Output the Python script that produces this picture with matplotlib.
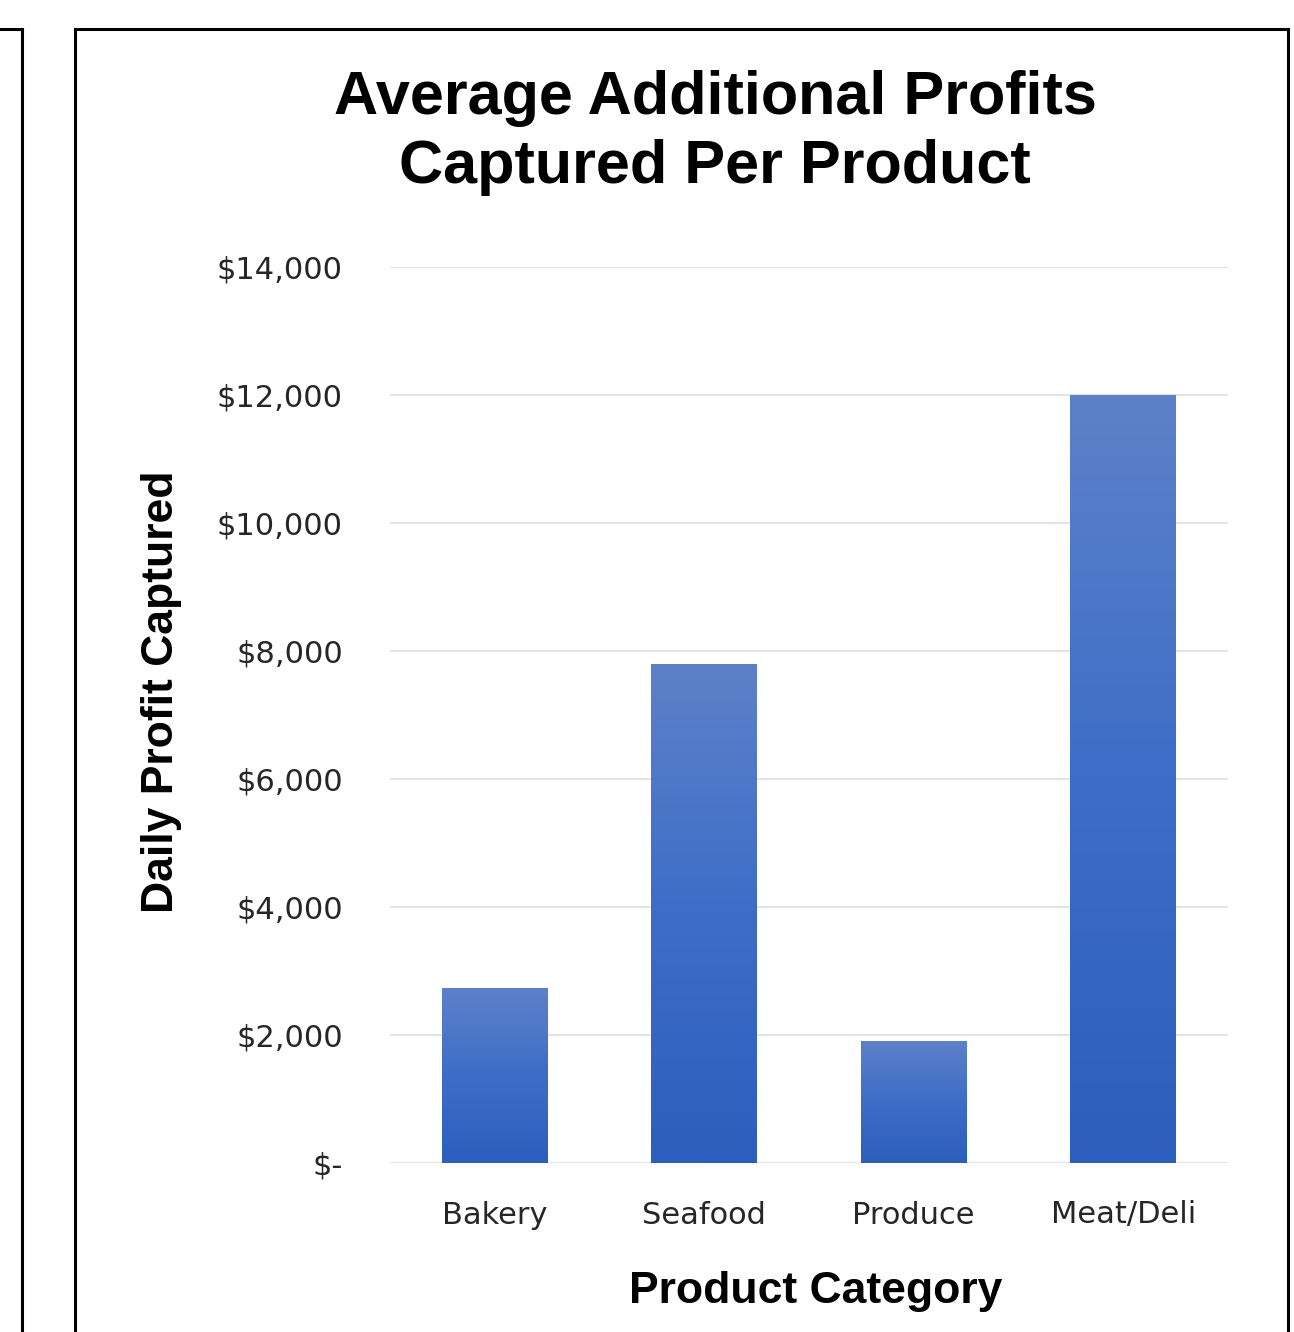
import numpy as np
import matplotlib.pyplot as plt
from matplotlib.lines import Line2D
from matplotlib.colors import LinearSegmentedColormap
from matplotlib.ticker import FuncFormatter

categories = ["Bakery", "Seafood", "Produce", "Meat/Deli"]
profits = [2730, 7800, 1900, 12000]
y_ticks = [0, 2000, 4000, 6000, 8000, 10000, 12000, 14000]

W, H = 1294, 1332
fig = plt.figure(figsize=(W / 100, H / 100), dpi=100)

# frame lines (pixel coords -> figure fraction)
def fx(x):
    return x / W

def fy(y):
    return 1 - y / H

for xs, ys in [([0, 22], [29, 29]), ([22, 22], [29, 1340]),
               ([75, 1288], [29, 29]), ([75, 75], [29, 1340]), ([1288, 1288], [29, 1340])]:
    fig.add_artist(Line2D([fx(x) for x in xs], [fy(y) for y in ys],
                          color="black", lw=2.2, transform=fig.transFigure))

ax = fig.add_axes([fx(390), fy(1163), fx(1228) - fx(390), fy(267) - fy(1163)])

for t in y_ticks:
    ax.axhline(t, color="#E1E4EA", lw=1.5, zorder=0)

cmap = LinearSegmentedColormap.from_list("bar", ["#2C5EBD", "#3D6DC7", "#5D81C9"])
grad = np.linspace(0, 1, 256).reshape(-1, 1)
bars = ax.bar(range(len(categories)), profits, width=0.505, color="none", zorder=2)
for b in bars:
    x0, w, h = b.get_x(), b.get_width(), b.get_height()
    im = ax.imshow(grad, cmap=cmap, aspect="auto", origin="lower",
                   extent=[x0, x0 + w, 0, h], zorder=2)
    im.set_clip_path(b)
ax.set_xlim(-0.5, 3.5)
ax.set_ylim(0, 14000)

for s in ax.spines.values():
    s.set_visible(False)
ax.tick_params(length=0)
ax.set_yticks(y_ticks)
ax.yaxis.set_major_formatter(FuncFormatter(lambda v, p: "$-" if v == 0 else f"${v:,.0f}"))
ax.set_xticks(range(len(categories)))
ax.set_xticklabels(categories)
for lab in ax.get_xticklabels() + ax.get_yticklabels():
    lab.set_fontfamily("DejaVu Sans")
    lab.set_fontsize(22)
    lab.set_color("#262626")
ax.tick_params(axis="y", pad=34)
ax.tick_params(axis="x", pad=27)

fig.text(fx(162), fy(692), "Daily Profit Captured", rotation=90,
         ha="center", va="center", fontsize=32, fontweight="bold",
         family="Liberation Sans")
fig.text(fx(816), fy(1292), "Product Category",
         ha="center", va="center", fontsize=32, fontweight="bold",
         family="Liberation Sans")

fig.text(fx(715), fy(133), "Average Additional Profits\nCaptured Per Product",
         ha="center", va="center", fontsize=44, fontweight="bold",
         family="Liberation Sans", linespacing=1.28)

fig.savefig("out.png", dpi=100)
